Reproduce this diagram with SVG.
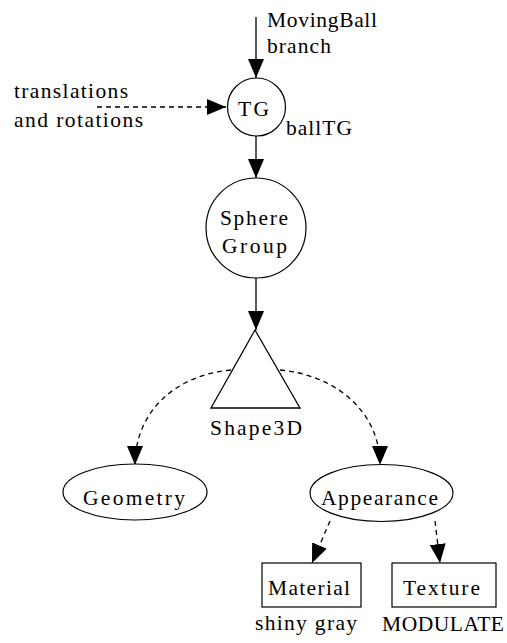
<svg xmlns="http://www.w3.org/2000/svg" width="507" height="643" viewBox="0 0 507 643">
<defs>
<style>
text{font-family:"Liberation Serif","Times New Roman",serif;font-size:21.5px;fill:#000}
.n{fill:#fff;stroke:#000;stroke-width:1.2}
.e{fill:none;stroke:#000;stroke-width:1.3}
.d{stroke-dasharray:5 4}
</style>
<marker id="ah" markerUnits="userSpaceOnUse" markerWidth="20" markerHeight="16" refX="19" refY="8" orient="auto">
<path d="M0,0 L19,8 L0,16 z" fill="#000"/>
</marker>
</defs>
<rect width="507" height="643" fill="#fff"/>
<g id="connectors">
<path class="e" d="M256,17 L256,78" marker-end="url(#ah)"/>
<path class="e d" d="M97,107 L226,107" marker-end="url(#ah)"/>
<path class="e" d="M256,136 L256,178" marker-end="url(#ah)"/>
<path class="e" d="M256,278 L256,330" marker-end="url(#ah)"/>
<path class="e d" d="M231,370 C175,375 135,412 135,465" marker-end="url(#ah)"/>
<path class="e d" d="M280,370 C336,375 380,412 380,465" marker-end="url(#ah)"/>
<path class="e d" d="M330,521 L312,563" marker-end="url(#ah)"/>
<path class="e d" d="M435,521 L440,563" marker-end="url(#ah)"/>
</g>
<g id="labels-top">
<text x="267" y="27" textLength="110" lengthAdjust="spacing">MovingBall</text>
<text x="267" y="53" textLength="64" lengthAdjust="spacing">branch</text>
<text x="14" y="98" textLength="114" lengthAdjust="spacing">translations</text>
<text x="14" y="127" textLength="129" lengthAdjust="spacing">and rotations</text>
</g>
<g id="TG">
<circle class="n" cx="256.5" cy="107" r="29"/>
<text x="238" y="116" textLength="31" lengthAdjust="spacing">TG</text>
<text x="286" y="135" textLength="66" lengthAdjust="spacing">ballTG</text>
</g>
<g id="SphereGroup">
<circle class="n" cx="256" cy="228" r="50"/>
<text x="220" y="225" textLength="68" lengthAdjust="spacing">Sphere</text>
<text x="222" y="253" textLength="65" lengthAdjust="spacing">Group</text>
</g>
<g id="Shape3D">
<polygon class="e" points="255,330 300,408 211,408"/>
<text x="210" y="435" textLength="92" lengthAdjust="spacing">Shape3D</text>
</g>
<g id="Geometry">
<ellipse class="n" cx="135" cy="492" rx="72" ry="28"/>
<text x="83" y="505" textLength="102" lengthAdjust="spacing">Geometry</text>
</g>
<g id="Appearance">
<ellipse class="n" cx="381.5" cy="493" rx="71.5" ry="28.5"/>
<text x="321" y="505" textLength="117" lengthAdjust="spacing">Appearance</text>
</g>
<g id="Material">
<rect class="n" x="262" y="563" width="99" height="44"/>
<text x="268" y="595" textLength="82" lengthAdjust="spacing">Material</text>
<text x="255" y="630" textLength="102" lengthAdjust="spacing">shiny gray</text>
</g>
<g id="Texture">
<rect class="n" x="392" y="563" width="104" height="44"/>
<text x="403" y="595" textLength="77" lengthAdjust="spacing">Texture</text>
<text x="382" y="631" textLength="122" lengthAdjust="spacing">MODULATE</text>
</g>
</svg>
